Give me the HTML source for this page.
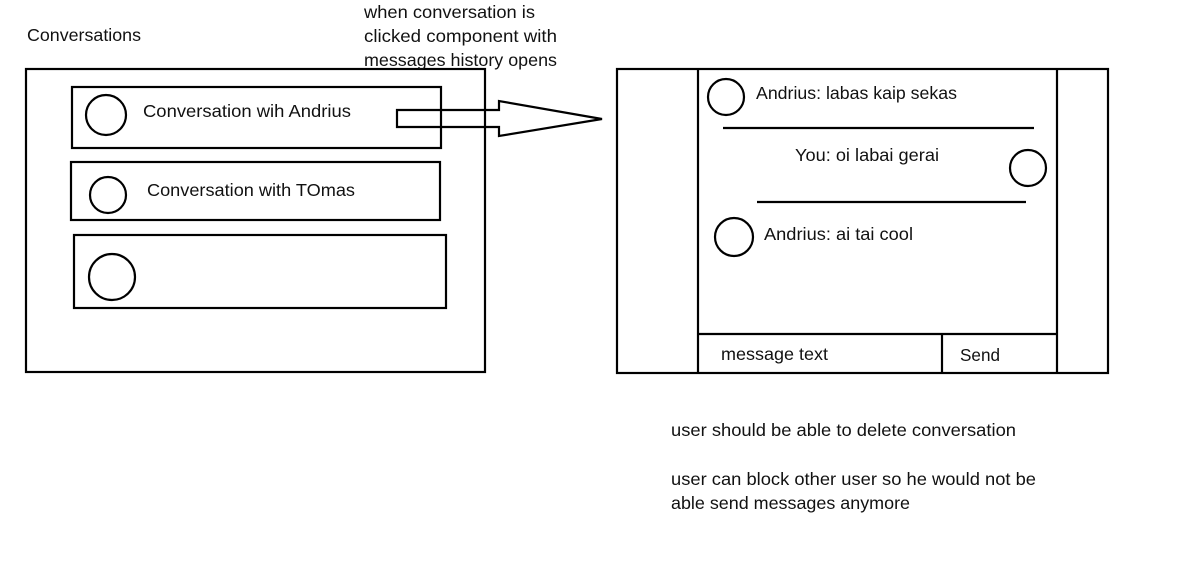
<!DOCTYPE html>
<html><head><style>
body{margin:0;background:#fff;width:1201px;height:570px;overflow:hidden}
svg{display:block}
text{font-family:"Liberation Sans",sans-serif;font-size:17.5px;fill:#111}
</style></head><body>
<svg width="1201" height="570" viewBox="0 0 1201 570">
<g fill="none" stroke="#000" stroke-width="2.2">
<rect x="26" y="69" width="459" height="303"/>
<rect x="72" y="87" width="369" height="61"/>
<rect x="71" y="162" width="369" height="58"/>
<rect x="74" y="235" width="372" height="73"/>
<circle cx="106" cy="115" r="20"/>
<circle cx="108" cy="195" r="18"/>
<circle cx="112" cy="277" r="23"/>
<path d="M397 110 H499 V101 L602 119 L499 136 V127 H397 Z"/>
<rect x="617" y="69" width="491" height="304"/>
<line x1="698" y1="69" x2="698" y2="373"/>
<line x1="1057" y1="69" x2="1057" y2="373"/>
<line x1="698" y1="334" x2="1057" y2="334"/>
<line x1="942" y1="334" x2="942" y2="373"/>
<circle cx="726" cy="97" r="18"/>
<circle cx="1028" cy="168" r="18"/>
<circle cx="734" cy="237" r="19"/>
<line x1="723" y1="128" x2="1034" y2="128"/>
<line x1="757" y1="202" x2="1026" y2="202"/>
</g>
<g lengthAdjust="spacingAndGlyphs">
<text x="27" y="41" textLength="114" lengthAdjust="spacingAndGlyphs">Conversations</text>
<text x="143" y="117" textLength="208" lengthAdjust="spacingAndGlyphs">Conversation wih Andrius</text>
<text x="147" y="196" textLength="208" lengthAdjust="spacingAndGlyphs">Conversation with TOmas</text>
<text x="364" y="18" textLength="171" lengthAdjust="spacingAndGlyphs">when conversation is</text>
<text x="364" y="42" textLength="193" lengthAdjust="spacingAndGlyphs">clicked component with</text>
<text x="364" y="66" textLength="193" lengthAdjust="spacingAndGlyphs">messages history opens</text>
<text x="756" y="99" textLength="201" lengthAdjust="spacingAndGlyphs">Andrius: labas kaip sekas</text>
<text x="795" y="161" textLength="144" lengthAdjust="spacingAndGlyphs">You: oi labai gerai</text>
<text x="764" y="240" textLength="149" lengthAdjust="spacingAndGlyphs">Andrius: ai tai cool</text>
<text x="721" y="360" textLength="107" lengthAdjust="spacingAndGlyphs">message text</text>
<text x="960" y="361" textLength="40" lengthAdjust="spacingAndGlyphs">Send</text>
<text x="671" y="436" textLength="345" lengthAdjust="spacingAndGlyphs">user should be able to delete conversation</text>
<text x="671" y="485" textLength="365" lengthAdjust="spacingAndGlyphs">user can block other user so he would not be</text>
<text x="671" y="509" textLength="239" lengthAdjust="spacingAndGlyphs">able send messages anymore</text>
</g>
</svg>
</body></html>
